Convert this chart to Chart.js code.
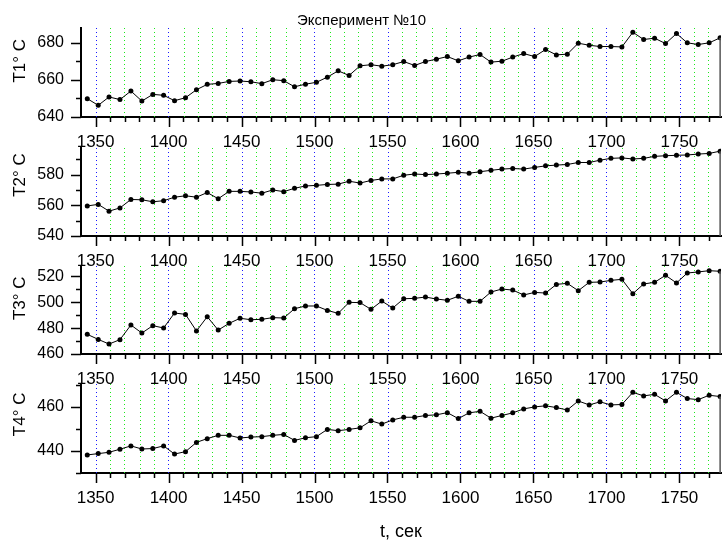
<!DOCTYPE html>
<html><head><meta charset="utf-8">
<script src="https://cdn.jsdelivr.net/npm/chart.js@4.4.1/dist/chart.umd.min.js"></script>
<style>
html,body{margin:0;padding:0;background:#fff;width:725px;height:543px;overflow:hidden;position:relative}
canvas{position:absolute;left:0}
</style></head><body>
<canvas id="c1"></canvas><canvas id="c2"></canvas><canvas id="c3"></canvas><canvas id="c4"></canvas>
<script>
const chartTitle = 'Эксперимент №10';
const xAxisTitle = 't, сек';
const yAxisTitles = ['T1° C', 'T2° C', 'T3° C', 'T4° C'];

const timeSec = [1344.3,1351.8,1359.2,1366.7,1374.2,1381.7,1389.2,1396.6,1404.1,1411.6,
  1419.1,1426.5,1434.0,1441.5,1449.0,1456.4,1463.9,1471.4,1478.9,1486.3,
  1493.8,1501.3,1508.8,1516.2,1523.7,1531.2,1538.7,1546.1,1553.6,1561.1,
  1568.6,1576.0,1583.5,1591.0,1598.5,1605.9,1613.4,1620.9,1628.4,1635.8,
  1643.3,1650.8,1658.3,1665.7,1673.2,1680.7,1688.2,1695.6,1703.1,1710.6,
  1718.1,1725.5,1733.0,1740.5,1748.0,1755.4,1762.9,1770.4,1777.9];

const tempT1 = [649.9,646.3,650.8,649.4,654.0,648.6,652.2,651.7,648.8,650.4,
  654.7,657.6,658.1,659.2,659.4,659.0,658.0,660.1,659.6,656.3,
  657.7,658.7,661.5,664.9,662.4,667.6,668.2,667.4,668.2,669.9,
  667.8,669.9,671.2,672.6,670.3,672.3,673.7,669.6,670.1,672.3,
  674.2,672.6,676.4,673.5,673.9,679.8,678.7,678.0,678.0,677.8,
  685.7,681.8,682.5,679.6,685.0,680.0,679.1,680.0,682.7];

const tempT2 = [559.6,560.6,556.2,558.3,563.8,563.6,562.3,563.0,565.3,566.2,
  565.3,568.3,564.3,569.1,569.1,568.7,567.9,570.0,568.9,571.1,
  572.6,573.0,573.6,573.8,575.7,574.5,576.2,577.2,577.2,579.6,
  580.4,580.0,580.4,580.9,581.5,580.9,581.9,582.8,583.6,584.0,
  583.6,584.7,585.7,586.2,586.6,587.9,587.9,589.4,590.6,590.9,
  590.2,590.6,591.9,592.3,592.6,592.8,593.4,593.8,595.3];

const tempT3 = [475.2,471.3,467.7,471.1,482.4,476.2,481.9,480.1,491.7,490.6,
  477.8,488.8,478.5,483.7,487.6,486.5,486.8,488.1,487.8,495.0,
  497.1,497.1,493.7,491.4,499.9,499.7,494.5,500.9,495.5,502.7,
  503.0,504.0,502.5,501.5,504.6,500.7,500.7,507.9,510.2,509.4,
  505.6,507.6,507.1,513.8,514.6,508.9,515.4,515.6,516.9,517.7,
  506.6,514.1,515.4,520.8,514.9,522.6,523.4,524.4,523.9];

const tempT4 = [438.2,438.8,439.4,440.8,442.3,440.9,441.1,442.3,438.6,439.7,
  443.9,445.6,447.1,447.1,445.9,446.3,446.5,447.1,447.5,444.8,
  446.0,446.5,449.8,449.2,449.8,450.5,453.7,452.2,454.1,455.3,
  455.3,456.1,456.4,457.4,454.7,457.3,458.0,454.9,456.1,457.3,
  459.1,460.0,460.5,459.7,458.6,462.7,460.9,462.3,460.9,461.1,
  466.6,465.0,465.7,462.7,466.6,463.8,463.3,465.3,464.7];

const series = [tempT1, tempT2, tempT3, tempT4];
const yMins = [640, 540, 460, 430];
const yMaxs = [688, 598, 528, 470.4];
const xMin = 1340, xMax = 1778.5;

// layout of the four stacked panels
const panels = [
  {id:'c1', top:0,   height:155, padTop:0,  padBottom:4, xBox:34, titleShift:'     '},
  {id:'c2', top:135, height:139, padTop:12, padBottom:4, xBox:34, titleShift:'       '},
  {id:'c3', top:254, height:138, padTop:12, padBottom:4, xBox:34, titleShift:'     '},
  {id:'c4', top:372, height:171, padTop:12, padBottom:0, xBox:70, titleShift:'      '}
];

const FONT = 'Liberation Sans, Arial, sans-serif';

function makeGrid(pageTop) {
  return {
    id: 'vGrid',
    beforeDatasetsDraw(chart) {
      const {ctx, chartArea: a, scales: {x}} = chart;
      ctx.save();
      ctx.lineWidth = 1;
      ctx.setLineDash([1, 3]);
      let y0 = Math.ceil(a.top);
      if ((y0 + pageTop) % 2 !== 0) y0 += 1;
      x.ticks.forEach(t => {
        const v = Math.round(t.value);
        if (v <= xMin) return;
        const p = 2 * Math.round(x.getPixelForValue(t.value) / 2) + 0.5;
        ctx.strokeStyle = v % 50 === 0 ? '#1a1aff' : '#1ee81e';
        ctx.beginPath();
        ctx.moveTo(p, y0);
        ctx.lineTo(p, a.bottom);
        ctx.stroke();
      });
      ctx.restore();
    }
  };
}

const tickMarks = {
  id: 'tickMarks',
  afterDraw(chart) {
    const {ctx, chartArea: a, scales: {x, y}} = chart;
    ctx.save();
    ctx.strokeStyle = '#000';
    ctx.lineWidth = 1.5;
    ctx.beginPath();
    x.ticks.forEach(t => {
      const v = Math.round(t.value);
      if (v <= xMin) return;
      const p = Math.round(x.getPixelForValue(t.value)) + 0.5;
      const len = v % 50 === 0 ? 10 : 5;
      ctx.moveTo(p, a.bottom); ctx.lineTo(p, a.bottom + len);
    });
    y.ticks.forEach(t => {
      const v = Math.round(t.value);
      const p = Math.round(y.getPixelForValue(t.value)) + 0.5;
      const len = v % 20 === 0 ? 10 : 5;
      ctx.moveTo(a.left, p); ctx.lineTo(a.left - len, p);
    });
    ctx.stroke();
    ctx.restore();
  }
};

const dropLine = {
  id: 'dropLine',
  afterDatasetsDraw(chart) {
    const meta = chart.getDatasetMeta(0);
    const last = meta.data[meta.data.length - 1];
    const ctx = chart.ctx;
    ctx.save();
    ctx.strokeStyle = '#555';
    ctx.lineWidth = 1.5;
    ctx.beginPath();
    ctx.moveTo(last.x, last.y);
    ctx.lineTo(last.x, chart.chartArea.bottom);
    ctx.stroke();
    ctx.restore();
  }
};

panels.forEach((p, i) => {
  const cv = document.getElementById(p.id);
  cv.width = 725; cv.height = p.height;
  cv.style.top = p.top + 'px';
  const isLast = i === panels.length - 1;
  new Chart(cv, {
    type: 'line',
    data: {
      datasets: [{
        data: timeSec.map((t, k) => ({x: t, y: series[i][k]})),
        borderColor: '#000',
        borderWidth: 1,
        backgroundColor: '#000',
        pointRadius: 2.5,
        pointBorderWidth: 0,
        pointBackgroundColor: '#000',
        tension: 0
      }]
    },
    options: {
      responsive: false,
      animation: false,
      devicePixelRatio: 1,
      layout: {padding: {top: p.padTop, left: 0, right: 2, bottom: p.padBottom}},
      plugins: {
        legend: {display: false},
        tooltip: {enabled: false},
        title: {
          display: i === 0,
          text: chartTitle,
          color: '#000',
          font: {family: FONT, size: 15, weight: 'normal', lineHeight: 1},
          padding: {top: 13, bottom: 0}
        }
      },
      scales: {
        x: {
          type: 'linear',
          min: xMin, max: xMax,
          afterFit(s) { s.height = p.xBox; s.paddingLeft = 0; s.paddingRight = 0; },
          ticks: {
            stepSize: 10,
            autoSkip: false,
            maxRotation: 0,
            includeBounds: false,
            padding: 15,
            color: '#000',
            font: {family: FONT, size: 17},
            callback: v => (Math.round(v) % 50 === 0 ? String(Math.round(v)) : '')
          },
          grid: {display: false, drawTicks: false},
          border: {display: true, color: '#000', width: 2},
          title: {
            display: isLast,
            text: xAxisTitle,
            color: '#000',
            font: {family: FONT, size: 18, lineHeight: 1},
            padding: {top: 2, bottom: 2}
          }
        },
        y: {
          min: yMins[i], max: yMaxs[i],
          afterFit(s) { s.width = 81; s.paddingTop = 0; s.paddingBottom = 0; },
          ticks: {
            stepSize: 10,
            autoSkip: false,
            includeBounds: false,
            padding: 17,
            color: '#000',
            font: {family: FONT, size: 16},
            callback: v => (Math.round(v) % 20 === 0 ? String(Math.round(v)) : '')
          },
          grid: {display: false, drawTicks: false},
          border: {display: true, color: '#000', width: 2},
          title: {
            display: true,
            text: p.titleShift + yAxisTitles[i],
            color: '#000',
            font: {family: FONT, size: 17},
            padding: {top: 10, bottom: 0}
          }
        }
      }
    },
    plugins: [makeGrid(p.top), tickMarks, dropLine]
  });
});
</script>
</body></html>
